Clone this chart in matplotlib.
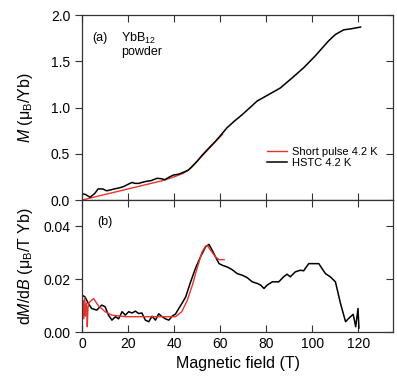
import numpy as np
import matplotlib.pyplot as plt

plt.rcParams['font.family'] = ['Liberation Sans', 'DejaVu Sans']
plt.rcParams['mathtext.fontset'] = 'custom'
plt.rcParams['mathtext.rm'] = 'Liberation Sans'
plt.rcParams['mathtext.it'] = 'Liberation Sans:italic'

# panel (a): magnetization M (muB/Yb) vs field B (T)
hstc_B = [0, 1.5, 3.5, 5.5, 7, 9, 10.7, 12.5, 14, 16, 18, 20, 21.7, 23, 24.6, 26, 27.5,
          30, 32.6, 34.5, 36, 38, 39.7, 42, 44, 46, 47.7, 50, 52, 55, 58.5, 62.9,
          66, 69.4, 72.5, 76, 81, 86, 91.2, 96.2, 101.3, 107, 110, 113.6, 116.5, 120.9]
hstc_M = [0.07, 0.06, 0.03, 0.07, 0.12, 0.12, 0.10, 0.11, 0.12, 0.13, 0.145, 0.17, 0.19,
          0.18, 0.18, 0.19, 0.20, 0.21, 0.235, 0.23, 0.22, 0.25, 0.27, 0.28, 0.30, 0.32,
          0.36, 0.42, 0.48, 0.56, 0.65, 0.78, 0.85, 0.92, 0.99, 1.07, 1.14, 1.21, 1.32,
          1.43, 1.56, 1.72, 1.79, 1.84, 1.85, 1.87]
pulse_B = [0, 5, 10, 15, 20, 25, 30, 35, 40, 44, 47, 50, 53, 56, 59, 61]
pulse_M = [0.0, 0.03, 0.06, 0.09, 0.12, 0.15, 0.18, 0.21, 0.25, 0.29, 0.34, 0.42, 0.50,
           0.58, 0.66, 0.71]

# panel (b): dM/dB (muB/T Yb)
hstc_dB = [0, 1.3, 2.8, 4.2, 6.4, 8.6, 10, 11.5, 13, 14.5, 15.9, 17.4, 18.8, 20.3, 21.7,
           23.2, 24.6, 26, 27.5, 29, 30.4, 31.9, 33.3, 34.8, 36.2, 37.7, 39.1, 40.6, 42,
           43.5, 45, 47, 49.2, 51.4, 53.6, 55.1, 56.5, 58, 59.5, 60.9, 63.1, 65.2, 67.4,
           69.6, 71.7, 73.9, 76.1, 77.5, 79, 80.4, 82.6, 85.4, 87.5, 89, 90.4, 92.6, 94.8,
           96.2, 98.4, 100.6, 102.8, 104.2, 105.7, 107.8, 110, 112.2, 114.4, 115.8,
           117.7, 118.8, 119.8, 120.2]
hstc_dM = [0.014, 0.0133, 0.0108, 0.0089, 0.0083, 0.0102, 0.0096, 0.0064, 0.0045, 0.0058,
           0.005, 0.0077, 0.0064, 0.0077, 0.0072, 0.0079, 0.007, 0.0072, 0.0045, 0.0039,
           0.006, 0.0045, 0.0069, 0.0058, 0.005, 0.0045, 0.006, 0.0068, 0.0089, 0.011,
           0.0133, 0.0186, 0.024, 0.0284, 0.0322, 0.0332, 0.031, 0.0284, 0.0259, 0.0253,
           0.0246, 0.0236, 0.0221, 0.0215, 0.0206, 0.019, 0.0184, 0.0178, 0.0165, 0.0178,
           0.019, 0.019, 0.0209, 0.0219, 0.0209, 0.0228, 0.0234, 0.0232, 0.0259, 0.0259,
           0.0259, 0.024, 0.0221, 0.0209, 0.019, 0.0108, 0.0039, 0.0052, 0.0067, 0.002,
           0.0089, 0.0015]
pulse_dB = [0, 0.5, 0.8, 1.2, 1.5, 2.0, 2.3, 2.6, 3.0, 3.5, 4.2, 5, 7.1, 10, 13, 18.8,
            25, 30, 35, 40.6, 43.3, 45.7, 48, 49.6, 50.6, 52.1, 53.6, 54.4, 55.8, 58,
            59.5, 61.7]
pulse_dM = [0.007, 0.012, 0.005, 0.013, 0.006, 0.011, 0.002, 0.009, 0.011, 0.0115,
            0.012, 0.0127, 0.010, 0.0077, 0.0064, 0.0058, 0.0058, 0.0058, 0.0058, 0.0058,
            0.0077, 0.012, 0.018, 0.023, 0.026, 0.0303, 0.0325, 0.0328, 0.031, 0.0284,
            0.0274, 0.0274]

red = '#e3342f'
spine_c = '#333333'

fig = plt.figure(figsize=(3.97, 3.76), dpi=100)
ax1 = fig.add_axes([0.2065, 0.468, 0.7835, 0.492])
ax2 = fig.add_axes([0.2065, 0.117, 0.7835, 0.351])

ax1.plot(pulse_B, pulse_M, color=red, lw=1.0, label='Short pulse 4.2 K')
ax1.plot(hstc_B, hstc_M, color='black', lw=1.1, label='HSTC 4.2 K')
ax2.plot(hstc_dB, hstc_dM, color='black', lw=1.1)
ax2.plot(pulse_dB, pulse_dM, color=red, lw=1.0)

for ax in (ax1, ax2):
    ax.set_xlim(0, 135)
    ax.set_xticks([0, 20, 40, 60, 80, 100, 120])
    ax.tick_params(axis='x', direction='in', top=True, length=5, width=0.8,
                   colors=spine_c, labelcolor='black', labelsize=10)
    ax.tick_params(axis='y', which='both', direction='out', length=5, width=0.8,
                   colors=spine_c, labelcolor='black', labelsize=10)
    for s in ax.spines.values():
        s.set_color(spine_c)
        s.set_linewidth(0.9)
    # inward ticks on the right side
    r = ax.secondary_yaxis('right')
    r.tick_params(direction='in', length=5, width=0.8, colors=spine_c)
    r.set_yticklabels([])
    r.spines['right'].set_visible(False)

ax1.set_ylim(0, 2.0)
ax1.set_yticks([0, 0.5, 1.0, 1.5, 2.0])
ax1.set_yticklabels(['0.0', '0.5', '1.0', '1.5', '2.0'])
ax1.tick_params(axis='x', labelbottom=False)
ax1.set_ylabel(r'$M$ ($\mathrm{\mu_B}$/Yb)', fontsize=11.5)
ax1.yaxis.set_label_coords(-0.15, 0.5)
ax1.text(4.3, 1.75, '(a)', fontsize=9, va='center')
ax1.text(17, 1.75, r'YbB$_{12}$', fontsize=9, va='center')
ax1.text(17, 1.6, 'powder', fontsize=9, va='center')
ax1.legend(loc='lower right', bbox_to_anchor=(0.965, 0.15), frameon=False,
           fontsize=8, handlelength=1.8, handletextpad=0.45, labelspacing=0.05,
           borderaxespad=0)

ax2.set_ylim(0, 0.05)
ax2.set_yticks([0, 0.02, 0.04])
ax2.set_yticklabels(['0.00', '0.02', '0.04'])
ax2.set_ylabel(r'd$M$/d$B$ ($\mathrm{\mu_B}$/T Yb)', fontsize=11.5)
ax2.yaxis.set_label_coords(-0.15, 0.5)
ax2.set_xlabel('Magnetic field (T)', fontsize=11.5)
ax2.text(6.5, 0.0415, '(b)', fontsize=9, va='center')

fig.savefig('out.png', dpi=100)
